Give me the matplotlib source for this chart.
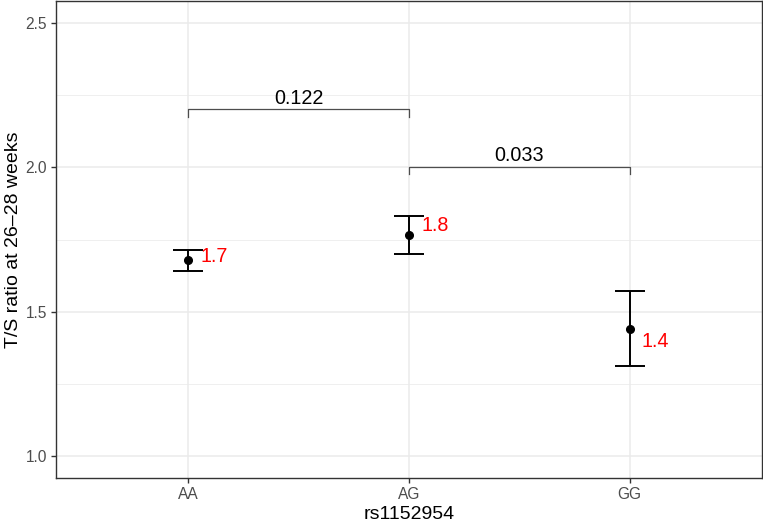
import matplotlib
matplotlib.use("Agg")
import matplotlib.pyplot as plt
from matplotlib.ticker import MultipleLocator

plt.rcParams['font.family'] = ['Liberation Sans', 'DejaVu Sans']

genotypes = ["AA", "AG", "GG"]
means = [1.678, 1.765, 1.441]
lower = [1.641, 1.701, 1.312]
upper = [1.715, 1.830, 1.571]
label_text = ["1.7", "1.8", "1.4"]
label_y = [1.690, 1.797, 1.398]

brackets = [("AA", "AG", 2.20, "0.122"), ("AG", "GG", 2.00, "0.033")]
tip = 0.025

fig = plt.figure(figsize=(7.63, 5.24), dpi=100)
ax = fig.add_axes([56/763, 1 - 478/524, (762 - 56)/763, (478 - 1)/524])

xpos = {g: i + 1 for i, g in enumerate(genotypes)}
xs = [xpos[g] for g in genotypes]

ax.set_xlim(0.4, 3.6)
ax.set_ylim(0.925, 2.575)

# grid
ax.yaxis.set_major_locator(MultipleLocator(0.5))
ax.yaxis.set_minor_locator(MultipleLocator(0.25))
ax.set_xticks(xs)
ax.set_xticklabels(genotypes)
ax.grid(True, which='major', color='#EBEBEB', linewidth=1.1, zorder=0)
ax.grid(True, which='minor', axis='y', color='#EBEBEB', linewidth=0.55, zorder=0)
ax.set_axisbelow(True)

# error bars
yerr = [[m - l for m, l in zip(means, lower)], [u - m for m, u in zip(means, upper)]]
ax.errorbar(xs, means, yerr=yerr, fmt='o', color='black', ecolor='black',
            elinewidth=1.4, capsize=11, capthick=1.4, markersize=5.5, zorder=3)

for x, ly, t in zip(xs, label_y, label_text):
    ax.text(x + 0.055, ly, t, color='#FF0000', fontsize=14.2, ha='left', va='center', zorder=4)

for g1, g2, y, p in brackets:
    x1, x2 = xpos[g1], xpos[g2]
    ax.plot([x1, x1, x2, x2], [y - tip, y, y, y - tip], color='#4D4D4D', linewidth=0.9, zorder=3)
    ax.text((x1 + x2) / 2, y + 0.006, p, ha='center', va='bottom', fontsize=14.2, color='black')

for s in ax.spines.values():
    s.set_color('#333333')
    s.set_linewidth(1.0)

ax.tick_params(axis='both', which='major', colors='#333333', length=3.8, width=1.0,
               labelcolor='#4D4D4D', labelsize=11.2, pad=2.5)
ax.tick_params(axis='y', which='minor', length=0)

ax.set_xlabel("rs1152954", fontsize=14, labelpad=3)
ax.set_ylabel("T/S ratio at 26\u201328 weeks", fontsize=14, labelpad=3)

fig.savefig("out.png", dpi=100)
